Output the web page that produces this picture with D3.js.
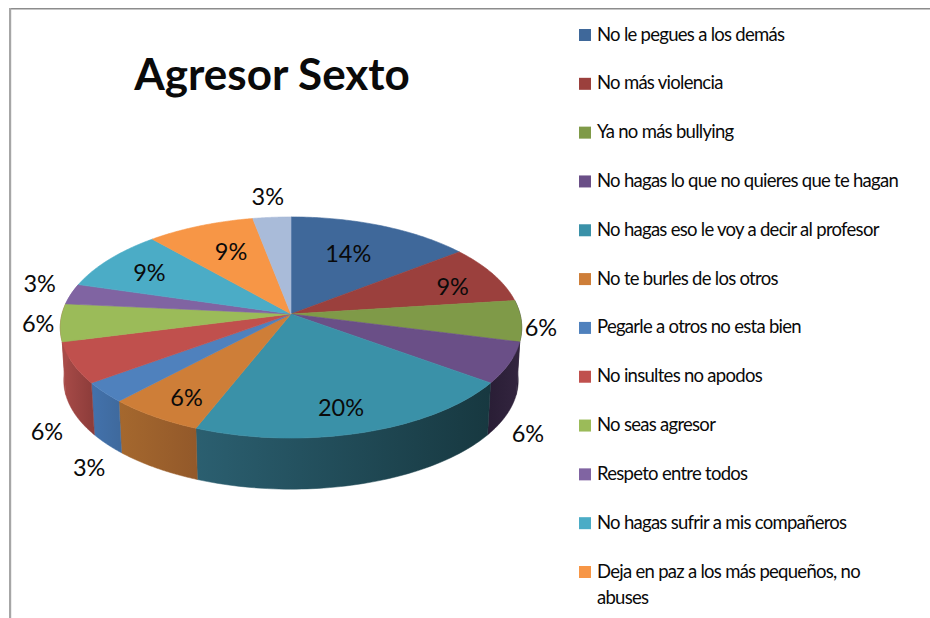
<!DOCTYPE html>
<html><head><meta charset="utf-8">
<script src="https://cdn.jsdelivr.net/npm/d3@7"></script>
<style>html,body{margin:0;padding:0;background:#fff}svg{display:block}text{font-family:Lato,sans-serif;fill:#0a0a0a}</style>
</head><body><svg id="c" width="930" height="618"></svg>
<script>
const chartTitle = "Agresor Sexto";
const categories = ["No le pegues a los demás","No más violencia","Ya no más bullying","No hagas lo que no quieres que te hagan","No hagas eso le voy a decir al profesor","No te burles de los otros","Pegarle a otros no esta bien","No insultes no apodos","No seas agresor","Respeto entre todos","No hagas sufrir a mis compañeros","Deja en paz a los más pequeños, no abuses",""];
const sliceShares = [14.5,8.5,6,6,21,6,3,6,5.5,3,9,8.5,3];
const percentLabels = ["14%","9%","6%","6%","20%","6%","3%","6%","6%","3%","9%","9%","3%"];
const topColors = ["#3F689A","#9B403D","#7F9A48","#6A4F87","#3A91A8","#CE7E38","#4F81BD","#C0504D","#9BBB59","#8064A2","#4BACC6","#F79646","#A9BBD9"];
const wallNear = ["#3F689A","#9B403D","#2A1E36","#2A1E36","#2B5F70","#A5682E","#4372AC","#A84B48","#A84B48","#8064A2","#4BACC6","#F79646","#A9BBD9"];
const wallFar  = ["#3F689A","#9B403D","#2A1E36","#33253F","#173840","#93592A","#3F6A9E","#8E3D3B","#A84B48","#8064A2","#4BACC6","#F79646","#A9BBD9"];
// label placement: radial factor and vertical lift
const labelRadial = [.63,.80,1.085,1.084,.69,.764,1.08,1.117,1.097,1.143,.78,.66,1.21];
const labelLift = [-4.8,4,6,67,11.6,5,69,62.5,0,-8,1.5,-4.7,0];

const W=930,H=618,cx=291,cy=314,R=229,Ry=108.9,k=.122,wallDrop=53,wallScale=.985;
const svg=d3.select("#c");
const defs=svg.append("defs");
const project=(a,r=1)=>{const u=Math.sin(a),v=Math.cos(a),s=1/(1+k*v);return [cx+R*u*s*r,cy-Ry*v*s*r];};
const lower=p=>[cx+(p[0]-cx)*wallScale,cy+(p[1]-cy)*wallScale+wallDrop];
const line=d3.line();
const pie=d3.pie().sort(null).value(d=>d)(sliceShares);
const arcPts=(d)=>d3.range(0,61).map(i=>project(d3.interpolateNumber(d.startAngle,d.endAngle)(i/60)));

// frame
svg.append("rect").attr("x",9).attr("y",8).attr("width",921).attr("height",1.5).attr("fill","#8c8c8c");
svg.append("rect").attr("x",9).attr("y",8).attr("width",2.2).attr("height",610).attr("fill","#a6a6a6");

// walls
const g=svg.append("g");
pie.forEach((d,i)=>{
  const mid=(d.startAngle+d.endAngle)/2;
  if(Math.cos(mid)>0.3) return;
  const pts=arcPts(d);
  const id="w"+i;
  const xs=pts.map(p=>p[0]);
  const gr=defs.append("linearGradient").attr("id",id).attr("gradientUnits","userSpaceOnUse")
    .attr("x1",d3.min(xs)).attr("x2",d3.max(xs)).attr("y1",0).attr("y2",0);
  gr.append("stop").attr("offset",0).attr("stop-color",wallNear[i]);
  gr.append("stop").attr("offset",1).attr("stop-color",wallFar[i]);
  g.append("path").attr("d",line(pts.concat(pts.slice().reverse().map(lower)))+"Z")
    .attr("fill",`url(#${id})`).attr("stroke",`url(#${id})`).attr("stroke-width",.5);
});
// top
pie.forEach((d,i)=>{
  g.append("path").attr("d",line([[cx,cy]].concat(arcPts(d)))+"Z")
   .attr("fill",topColors[i]).attr("stroke",topColors[i]).attr("stroke-width",.6).attr("stroke-linejoin","round");
});
// value labels
pie.forEach((d,i)=>{
  const p=project((d.startAngle+d.endAngle)/2,labelRadial[i]);
  svg.append("text").attr("x",p[0]).attr("y",p[1]+labelLift[i]).attr("dy","0.36em")
    .attr("text-anchor","middle").attr("font-size",23.5).text(percentLabels[i]);
});
// title
svg.append("text").attr("x",272).attr("y",90).attr("text-anchor","middle")
  .attr("font-size",44).attr("font-weight",700).text(chartTitle);
// legend
const legendY=d3.scaleLinear().domain([0,11]).range([35,572]);
categories.slice(0,12).forEach((c,i)=>{
  const y=legendY(i);
  svg.append("rect").attr("x",579).attr("y",y-6).attr("width",12).attr("height",12).attr("fill",topColors[i]);
  const words=c.split(" ");
  const lines=i===11?[words.slice(0,-1).join(" "),words[words.length-1]]:[c];
  lines.forEach((t,j)=>svg.append("text").attr("x",597).attr("y",y+j*26).attr("dy","0.3em")
    .attr("font-size",18.5).attr("letter-spacing",-.72).text(t));
});
</script></body></html>
